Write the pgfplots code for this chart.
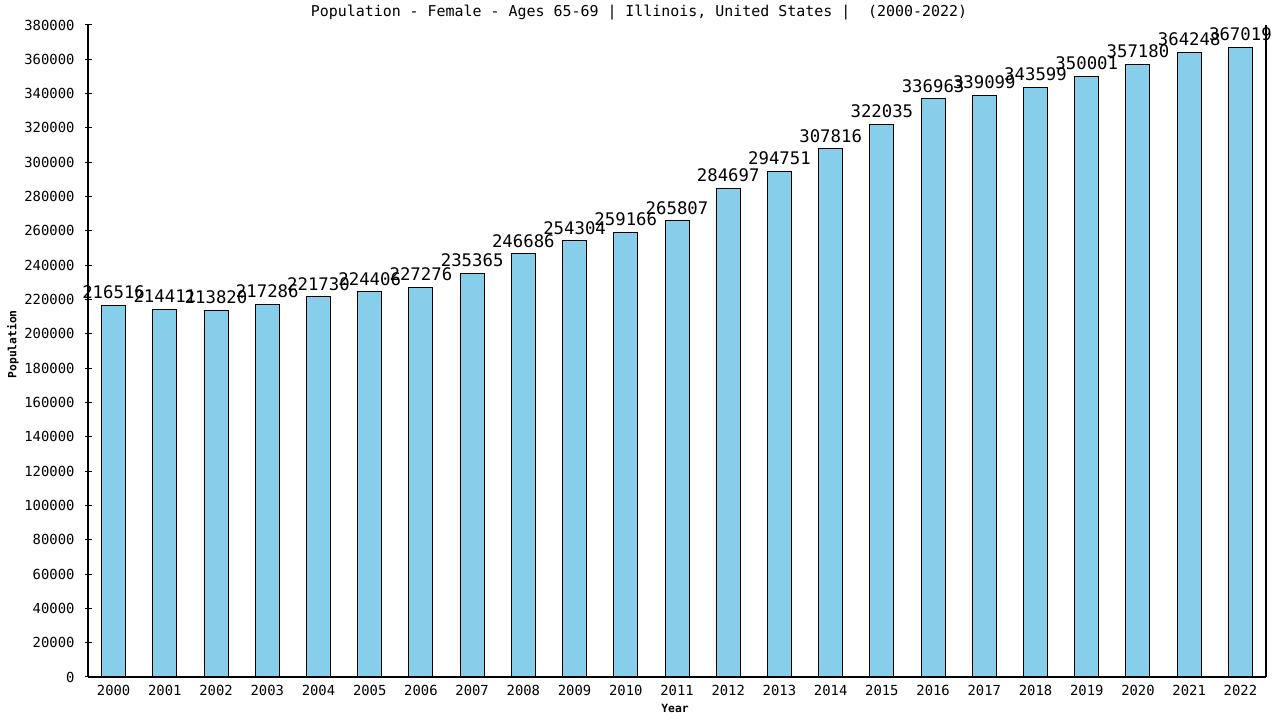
\documentclass[border=0pt]{standalone}
\usepackage{pgfplots}
\pgfplotsset{compat=1.18}
\usepackage{fontspec}
\setmainfont{DejaVu Sans Mono}
\definecolor{barblue}{HTML}{87CEEB}

\begin{document}
\begin{tikzpicture}
\path[use as bounding box] (0pt,0pt) rectangle (960pt,540pt);
\begin{axis}[
    at={(66pt,32.25pt)}, anchor=south west,
    scale only axis,
    width=883.5pt, height=489pt,
    ybar, bar width=18pt,
    xmin=-0.5, xmax=22.5,
    ymin=0, ymax=380000,
    xtick=data,
    xticklabels={2000,2001,2002,2003,2004,2005,2006,2007,2008,2009,2010,2011,2012,2013,2014,2015,2016,2017,2018,2019,2020,2021,2022},
    ytick={0,20000,...,380000},
    scaled y ticks=false,
    /pgf/number format/.cd, fixed, 1000 sep={}, assume math mode=true, /pgfplots/.cd,
    axis x line*=bottom, axis y line*=left,
    axis line style={black, line width=0.9pt, -},
    tick align=center,
    major tick length=5.25pt,
    x tick style={draw=none},
    y tick style={black, line width=0.75pt},
    tick label style={font=\fontsize{10.4}{12}\selectfont},
    xticklabel style={yshift=0pt},
    yticklabel style={xshift=-4pt},
    xlabel={\bfseries Year},
    ylabel={\bfseries Population},
    xlabel style={font=\fontsize{8.5}{10}\selectfont, at={(axis description cs:0.4983,-0.0475)}, anchor=center},
    ylabel style={font=\fontsize{8.5}{10}\selectfont, at={(axis description cs:-0.0637,0.5102)}, anchor=center},
    nodes near coords,
    point meta=explicit symbolic,
    every node near coord/.append style={font=\fontsize{13}{15}\selectfont, black, yshift=1pt},
    clip=false,
]
\addplot[fill=barblue, draw=black, line width=0.75pt] coordinates {
    (0,216516) [216516]
    (1,214411) [214411]
    (2,213820) [213820]
    (3,217286) [217286]
    (4,221730) [221730]
    (5,224406) [224406]
    (6,227276) [227276]
    (7,235365) [235365]
    (8,246686) [246686]
    (9,254304) [254304]
    (10,259166) [259166]
    (11,265807) [265807]
    (12,284697) [284697]
    (13,294751) [294751]
    (14,307816) [307816]
    (15,322035) [322035]
    (16,336963) [336963]
    (17,339099) [339099]
    (18,343599) [343599]
    (19,350001) [350001]
    (20,357180) [357180]
    (21,364248) [364248]
    (22,367019) [367019]
};
\draw[black, line width=0.9pt] (rel axis cs:1,0) -- (rel axis cs:1,1);
\end{axis}
\node[anchor=center, font=\fontsize{11.2}{13}\selectfont] at (479.25pt,530.25pt)
    {Population - Female - Ages 65-69 | Illinois, United States |\ \ (2000-2022)};
\end{tikzpicture}
\end{document}
